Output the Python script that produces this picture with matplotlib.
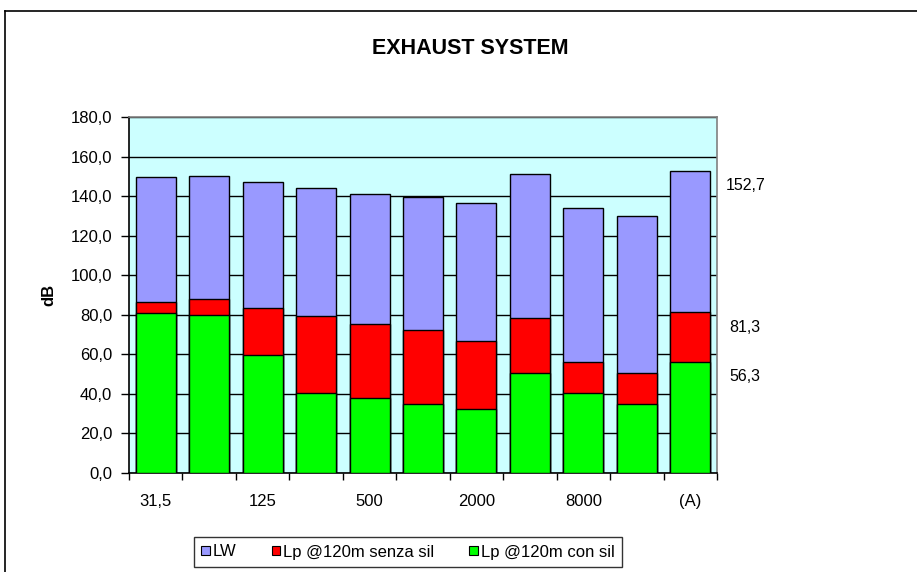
import matplotlib
matplotlib.use("Agg")
import matplotlib.pyplot as plt
from matplotlib.lines import Line2D
from matplotlib.patches import Patch
import numpy as np

plt.rcParams['font.family'] = ['Liberation Sans', 'DejaVu Sans']

categories = ["31,5", "63", "125", "250", "500", "1000", "2000", "4000", "8000", "16000", "(A)"]
lw_values = [149.8, 150.3, 147.1, 143.9, 141.0, 139.4, 136.3, 151.2, 134.0, 130.1, 152.7]
lp_senza = [86.3, 88.1, 83.3, 79.5, 75.5, 72.3, 66.9, 78.6, 56.1, 50.6, 81.3]
lp_con = [80.7, 80.0, 59.7, 40.3, 38.1, 34.8, 32.5, 50.4, 40.3, 34.9, 56.3]
series_names = ["LW", "Lp @120m senza sil", "Lp @120m con sil"]
colors = ["#9999FF", "#FF0000", "#00FF00"]

W, H = 917, 572
fig = plt.figure(figsize=(W / 100, H / 100), dpi=100)
left, right, top, bottom = 129, 717, 117, 473
ax = fig.add_axes([left / W, 1 - bottom / H, (right - left) / W, (bottom - top) / H])
ax.set_facecolor("#CCFFFF")

x = np.arange(len(categories))
width = 0.75
for vals, c, name, z in zip([lw_values, lp_senza, lp_con], colors, series_names, [3, 4, 5]):
    ax.bar(x, vals, width=width, color=c, edgecolor="black", linewidth=1.0, zorder=z, label=name)

ax.set_xlim(-0.5, len(categories) - 0.5)
ax.set_ylim(0, 180)
ax.set_yticks(np.arange(0, 181, 20))
ax.set_yticklabels([f"{v:.1f}".replace(".", ",") for v in np.arange(0, 181, 20)], fontsize=12)
ax.yaxis.grid(True, color="black", linewidth=1.0)
ax.set_axisbelow(True)
ax.tick_params(axis="y", direction="out", length=6, width=1, pad=6)

ax.set_xticks(x[::2])
ax.set_xticklabels(categories[::2], fontsize=12)
ax.set_xticks(np.arange(-0.5, len(categories), 1), minor=True)
ax.tick_params(axis="x", which="major", length=0, pad=15)
ax.tick_params(axis="x", which="minor", direction="out", length=5, width=1)

for s in ["left", "bottom"]:
    ax.spines[s].set_color("black")
    ax.spines[s].set_linewidth(1.2)
for s in ["top", "right"]:
    ax.spines[s].set_color("#808080")
    ax.spines[s].set_linewidth(1.2)

ax.set_ylabel("dB", fontsize=12, fontweight="bold", labelpad=10)

last = len(categories) - 1
for vals in [lw_values, lp_senza, lp_con]:
    v = vals[last]
    ax.annotate(f"{v:.1f}".replace(".", ","), xy=(last, v), xycoords="data",
                xytext=(55, -15), textcoords="offset pixels", ha="center", va="center",
                fontsize=11.5, annotation_clip=False)

fig.text(470 / W, 1 - 48 / H, "EXHAUST SYSTEM", ha="center", va="center",
         fontsize=15.5, fontweight="bold")

handles = [Patch(facecolor=c, edgecolor="black", linewidth=0.8) for c in colors]
leg = fig.legend(handles, series_names, loc="center", bbox_to_anchor=(408 / W, 1 - 552 / H),
                 ncol=3, fontsize=12, frameon=True, fancybox=False, edgecolor="black",
                 handlelength=0.5, handleheight=0.5, handletextpad=0.2, columnspacing=2.1,
                 borderpad=0.45)
leg.get_frame().set_linewidth(1.0)

fig.add_artist(Line2D([5 / W, 5 / W], [0, 1 - 11 / H], color="black", linewidth=1.2,
                      transform=fig.transFigure))
fig.add_artist(Line2D([5 / W, 1], [1 - 11 / H, 1 - 11 / H], color="black", linewidth=1.2,
                      transform=fig.transFigure))

fig.savefig("out.png", dpi=100)
